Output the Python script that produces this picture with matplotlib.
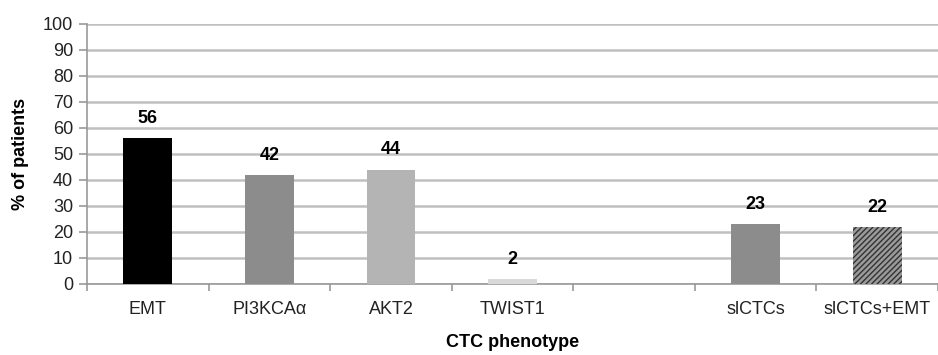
import matplotlib
matplotlib.use("Agg")
import matplotlib.pyplot as plt
import numpy as np

plt.rcParams['font.family'] = ['Liberation Sans', 'DejaVu Sans']
plt.rcParams['hatch.linewidth'] = 1.0

categories = ["EMT", "PI3KCAα", "AKT2", "TWIST1", "", "slCTCs", "slCTCs+EMT"]
values = [56, 42, 44, 2, None, 23, 22]
colors = ["#000000", "#8c8c8c", "#b4b4b4", "#d9d9d9", None, "#8c8c8c", "#9a9a9a"]
hatches = [None, None, None, None, None, None, "//////"]
y_ticks = list(range(0, 101, 10))

fig = plt.figure(figsize=(9.38, 3.55), dpi=100)
ax = fig.add_axes([87/938, 1-284/355, 1-87/938, (284-24)/355])

x = np.arange(len(categories))
for xi, v, c, h in zip(x, values, colors, hatches):
    if v is None:
        continue
    ax.bar(xi, v, width=0.4, color=c, hatch=h,
           edgecolor="#333333" if h else c, linewidth=0 if not h else 0.0, zorder=3)
    ax.annotate(f"{v}", (xi, v), xytext=(0, 8), textcoords="offset points",
                ha="center", va="bottom", fontsize=13, fontweight="bold", zorder=4)

ax.set_xlim(-0.5, len(categories) - 0.5)
ax.set_ylim(0, 100)
ax.set_yticks(y_ticks)
ax.set_yticklabels([str(t) for t in y_ticks], fontsize=13, color="#222222")
ax.set_xticks(x)
ax.set_xticklabels(categories, fontsize=13, color="#222222")
ax.set_xticks(np.arange(-0.5, len(categories) + 0.5, 1), minor=True)
ax.tick_params(axis="x", which="major", length=0, pad=12)
ax.tick_params(axis="x", which="minor", length=5, color="#999999", width=1.2)
ax.tick_params(axis="y", length=6, color="#999999", width=1.2, pad=4)

ax.grid(axis="y", color="#c0c0c0", linewidth=1.8, zorder=0)
for s in ["top", "right"]:
    ax.spines[s].set_visible(False)
for s in ["left", "bottom"]:
    ax.spines[s].set_color("#999999")
    ax.spines[s].set_linewidth(1.2)

ax.set_ylabel("% of patients", fontsize=13, fontweight="bold", labelpad=10)
ax.set_xlabel("CTC phenotype", fontsize=13, fontweight="bold", labelpad=12)

fig.savefig("out.png", dpi=100)
